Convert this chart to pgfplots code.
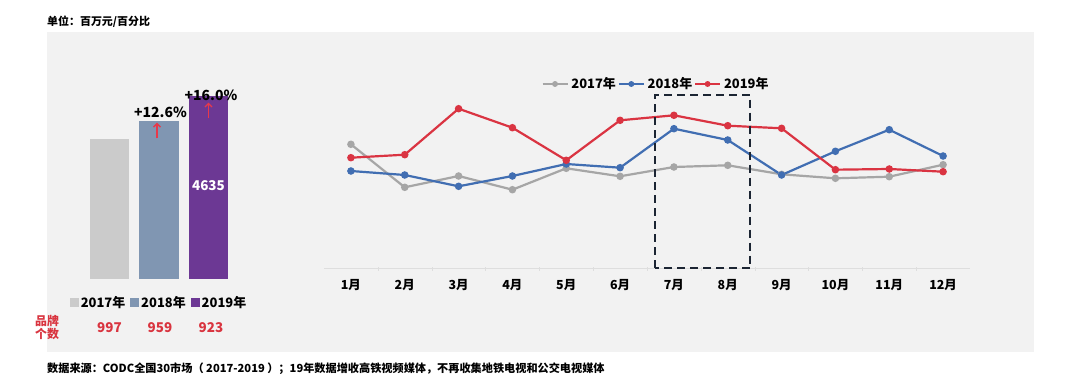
\documentclass[border=0pt]{standalone}
\usepackage{fontspec}
\setmainfont{Noto Sans CJK SC}
\usepackage{pgfplots}
\pgfplotsset{compat=1.18}
\usetikzlibrary{arrows.meta}
\definecolor{panel}{HTML}{F2F2F2}
\definecolor{b17}{HTML}{CBCBCB}
\definecolor{b18}{HTML}{8096B2}
\definecolor{b19}{HTML}{6C3894}
\definecolor{l17}{HTML}{A6A6A6}
\definecolor{l18}{HTML}{416EB2}
\definecolor{l19}{HTML}{DA3442}
\definecolor{redtxt}{HTML}{D9343F}
\definecolor{arrowred}{HTML}{E8394A}
\definecolor{axisgray}{HTML}{DEDEDE}
\definecolor{navy}{HTML}{1C2533}
\begin{document}
\begin{tikzpicture}
\useasboundingbox (0bp,0bp) rectangle (1080bp,383bp);
\fill[white] (0bp,0bp) rectangle (1080bp,383bp);
\fill[panel] (47bp,31bp) rectangle (1034bp,351bp);
\node[anchor=west,inner sep=0pt,font=\bfseries\fontsize{11}{13}\selectfont] at (47bp,361bp) {单位：百万元/百分比};
\node[anchor=west,inner sep=0pt,font=\bfseries\fontsize{11.2}{13}\selectfont] at (47bp,14bp) {数据来源：CODC全国30市场（ 2017-2019 ）；19年数据增收高铁视频媒体，不再收集地铁电视和公交电视媒体};
% bar chart
\begin{axis}[at={(84.75bp,104bp)}, anchor=south west, scale only axis,
  width=148.5bp, height=183bp, xmin=-0.5, xmax=2.5, ymin=0, ymax=4635,
  axis lines=none, ybar, bar width=39.5bp, clip=false,
  legend columns=3,
  legend style={at={(0.5,-0.131)}, anchor=center, draw=none, fill=none,
    font=\bfseries\fontsize{13}{15}\selectfont,
    /tikz/every even column/.append style={column sep=3bp},
    /tikz/every odd column/.append style={column sep=0bp}},
  legend image code/.code={\fill[#1] (0bp,-4.5bp) rectangle (9bp,4.5bp);}]
\addplot[fill=b17, draw=none, bar shift=0pt] coordinates {(0,3550)};
\addplot[fill=b18, draw=none, bar shift=0pt] coordinates {(1,3996)};
\addplot[fill=b19, draw=none, bar shift=0pt] coordinates {(2,4635)};
\legend{2017年,2018年,2019年}
\node[white,font=\bfseries\fontsize{13.5}{15}\selectfont] at (axis cs:2,2355) {4635};
\node[black,font=\bfseries\fontsize{14}{16}\selectfont] at (axis cs:1.03,4230) {+12.6\%};
\node[black,font=\bfseries\fontsize{14}{16}\selectfont] at (axis cs:2.05,4660) {+16.0\%};
\draw[arrowred, line width=1.4bp, -{Straight Barb[length=3.5bp,width=7bp]}] (axis cs:0.96,3560) -- (axis cs:0.96,3960);
\draw[arrowred, line width=1.4bp, -{Straight Barb[length=3.5bp,width=7bp]}] (axis cs:2,4070) -- (axis cs:2,4470);
\end{axis}
\node[redtxt,anchor=west,inner sep=0pt,font=\bfseries\fontsize{12}{13}\selectfont] at (35bp,62bp) {品牌};
\node[redtxt,anchor=west,inner sep=0pt,font=\bfseries\fontsize{12}{13}\selectfont] at (35bp,49bp) {个数};
\node[redtxt,font=\bfseries\fontsize{13.5}{15}\selectfont] at (109.5bp,55bp) {997};
\node[redtxt,font=\bfseries\fontsize{13.5}{15}\selectfont] at (160bp,55bp) {959};
\node[redtxt,font=\bfseries\fontsize{13.5}{15}\selectfont] at (211bp,55bp) {923};
% line chart
\begin{axis}[at={(324bp,114bp)}, anchor=south west, scale only axis,
  width=646bp, height=200bp, xmin=0.5, xmax=12.5, ymin=0, ymax=200,
  axis x line=bottom, axis y line=none, clip=false,
  x axis line style={draw=axisgray, line width=1bp, -},
  xtick={1,...,12},
  xticklabels={1月,2月,3月,4月,5月,6月,7月,8月,9月,10月,11月,12月},
  major tick length=0pt,
  minor xtick={1.5,2.5,...,11.5}, minor tick length=4bp,
  minor tick style={axisgray},
  xticklabel style={font=\bfseries\fontsize{12.5}{14}\selectfont, yshift=-7bp},
  legend columns=3,
  legend style={at={(0.514,0.925)}, anchor=center, draw=none, fill=none,
    font=\bfseries\fontsize{13}{15}\selectfont,
    /tikz/every even column/.append style={column sep=0bp},
    /tikz/every odd column/.append style={column sep=1bp},
    nodes={inner sep=2bp}},
  legend image code/.code={\draw[#1, line width=1.8bp, mark size=2bp, mark repeat=2, mark phase=2] plot coordinates {(0bp,0bp) (12.5bp,0bp) (25bp,0bp)};},
  every axis plot/.append style={line width=2.2bp, mark=*, mark size=2.6bp}]
\addplot[l17, mark options={fill=l17}] table {
x y
1 124.7
2 81.7
3 93
4 79.3
5 100.7
6 92.7
7 102
8 103.7
9 94.7
10 90.7
11 92.3
12 104.3
};
\addplot[l18, mark options={fill=l18}] table {
x y
1 98
2 94
3 82.7
4 93
5 105
6 101.3
7 140.3
8 129
9 94
10 117.7
11 139.3
12 113
};
\addplot[l19, mark options={fill=l19}] table {
x y
1 111.3
2 114.3
3 160.3
4 141.3
5 108.7
6 148.7
7 153.7
8 143.3
9 140.7
10 99.3
11 100
12 97.3
};
\legend{2017年,2018年,2019年}
\draw[navy, line width=2.2bp, dash pattern=on 8bp off 5bp] (axis cs:6.65,1) rectangle (axis cs:8.42,174);
\end{axis}
\end{tikzpicture}
\end{document}
